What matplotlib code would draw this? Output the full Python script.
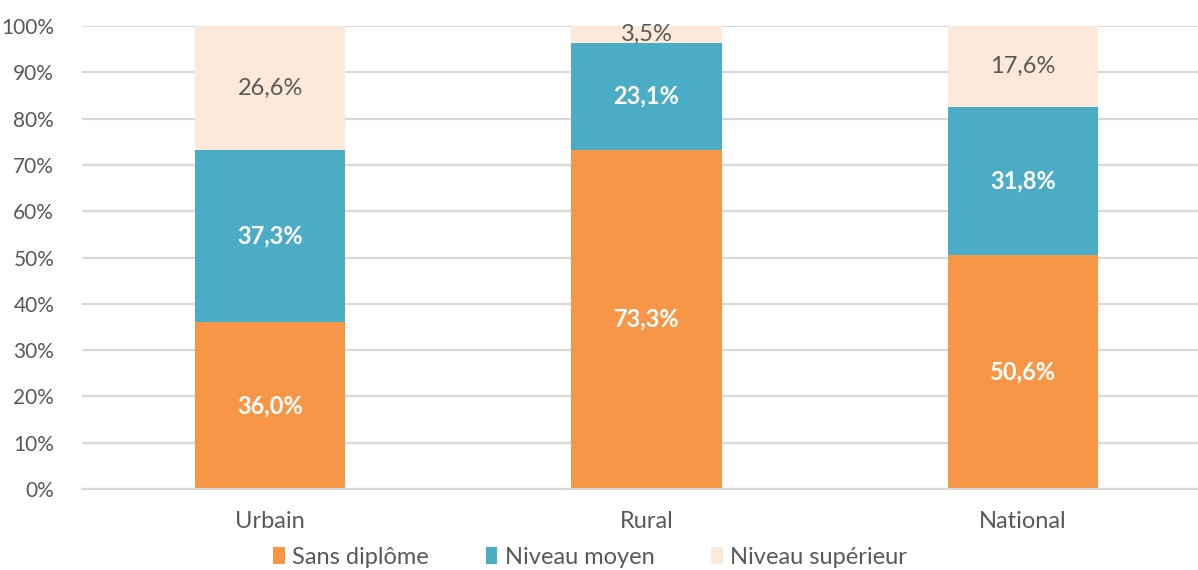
import matplotlib.pyplot as plt
import numpy as np

# données
categories = ["Urbain", "Rural", "National"]
sans_diplome = [36.0, 73.3, 50.6]
niveau_moyen = [37.3, 23.1, 31.8]
niveau_sup = [26.6, 3.5, 17.6]

plt.rcParams['font.family'] = ['Lato', 'DejaVu Sans']

fig = plt.figure(figsize=(11.98, 5.7), dpi=100)
ax = fig.add_axes([82 / 1198, 1 - 489 / 570, 1129 / 1198, 463 / 570])

x = np.arange(len(categories))
w = 0.40
c1, c2, c3 = "#F79646", "#4BACC6", "#FDE9D9"

b1 = np.array(sans_diplome)
b2 = b1 + np.array(niveau_moyen)

ax.bar(x, sans_diplome, w, color=c1, label="Sans diplôme", zorder=2)
ax.bar(x, niveau_moyen, w, bottom=b1, color=c2, label="Niveau moyen", zorder=2)
ax.bar(x, niveau_sup, w, bottom=b2, color=c3, label="Niveau supérieur", zorder=2)

def fmt(v):
    return f"{v:.1f}%".replace(".", ",")

for i in range(len(categories)):
    ax.text(x[i], sans_diplome[i] / 2, fmt(sans_diplome[i]), ha="center", va="center",
            color="white", fontsize=17, fontweight="bold", zorder=3)
    ax.text(x[i], b1[i] + niveau_moyen[i] / 2, fmt(niveau_moyen[i]), ha="center", va="center",
            color="white", fontsize=17, fontweight="bold", zorder=3)
    ax.text(x[i], b2[i] + niveau_sup[i] / 2, fmt(niveau_sup[i]), ha="center", va="center",
            color="#595959", fontsize=17, zorder=3)

ax.set_xlim(-0.5, 2.5)
ax.set_ylim(0, 100)
ax.set_yticks(range(0, 101, 10))
ax.set_yticklabels([f"{v}%" for v in range(0, 101, 10)])
ax.set_xticks(x)
ax.set_xticklabels(categories, fontsize=17)
ax.yaxis.grid(True, color="#D9D9D9", linewidth=1.6, zorder=0)
ax.set_axisbelow(True)
for s in ["top", "right", "left"]:
    ax.spines[s].set_visible(False)
ax.spines["bottom"].set_color("#D9D9D9")
ax.spines["bottom"].set_linewidth(1.6)
ax.tick_params(axis="both", length=0, colors="#595959")
ax.tick_params(axis="y", labelsize=15, pad=20)
ax.tick_params(axis="x", pad=16)

fig.legend(loc="center", bbox_to_anchor=(590 / 1198, 1 - 557 / 570), ncol=3, frameon=False,
           fontsize=17, handlelength=0.5, handleheight=0.75, handletextpad=0.3, columnspacing=2.4,
           labelcolor="#595959")

fig.savefig("out.png", dpi=100)
